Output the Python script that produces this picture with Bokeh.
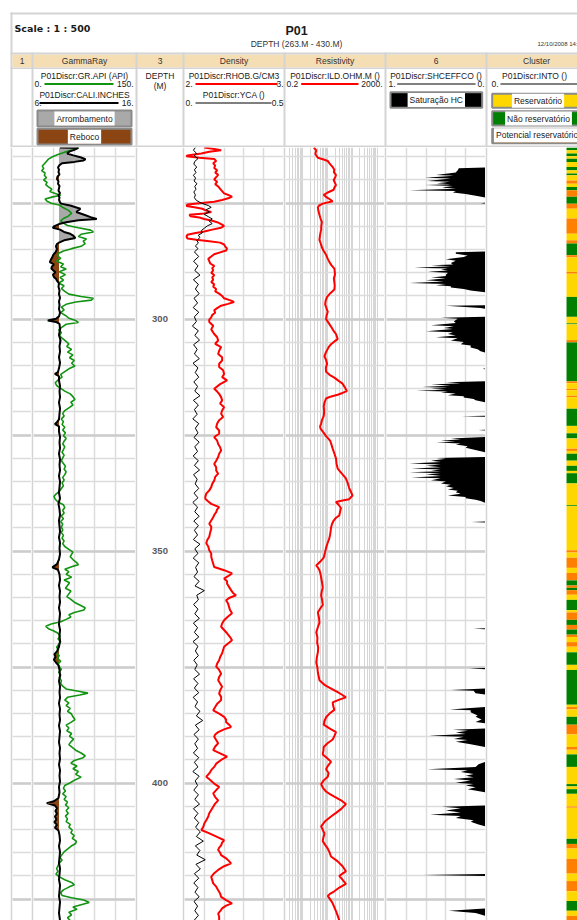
import numpy as np
from bokeh.plotting import figure
from bokeh.layouts import column, row
from bokeh.models import Range1d, Grid, SingleIntervalTicker, FixedTicker, Spacer
from bokeh.core.properties import value
from bokeh.embed import file_html
from bokeh.resources import INLINE

# ------------------------------------------------------------------ data
# GR (API) : (depth m, value)
gr_log = [
    (263.0, 66), (263.5, 58), (264.0, 46), (264.5, 36), (265.0, 28), (265.5, 22), (266.0, 19), (266.5, 16), (267.0, 13), (267.5, 15),
    (268.0, 12), (268.5, 17), (269.0, 16), (269.5, 19), (270.0, 15), (270.5, 20), (271.0, 18), (271.5, 22), (272.0, 27), (272.5, 24),
    (273.0, 34), (273.3, 40), (273.7, 27), (274.1, 17), (274.6, 20), (275.0, 26), (275.4, 38), (276.0, 44), (276.6, 52), (277.2, 56),
    (277.8, 51), (278.3, 44), (278.8, 40), (279.3, 44), (279.8, 50), (280.3, 66), (280.8, 84), (281.2, 88), (281.7, 70), (282.2, 66),
    (282.7, 78), (283.2, 73), (283.7, 76), (284.3, 70), (284.8, 56), (285.3, 44), (285.8, 37), (286.3, 35), (286.9, 40), (287.5, 34),
    (288.1, 44), (288.7, 40), (289.2, 48), (289.8, 38), (290.4, 47), (291.0, 39), (291.6, 44), (292.2, 37), (292.8, 45), (293.4, 41),
    (294.0, 46), (294.6, 52), (295.1, 70), (295.5, 88), (295.9, 85), (296.3, 62), (296.8, 48), (297.4, 41), (298.0, 45), (298.6, 40),
    (299.2, 47), (299.8, 52), (300.3, 62), (300.7, 66), (301.1, 48), (301.7, 42), (302.3, 37), (302.9, 41), (303.5, 38), (304.1, 42),
    (304.7, 47), (305.3, 52), (305.9, 49), (306.5, 56), (307.1, 50), (307.7, 58), (308.3, 53), (308.9, 60), (309.5, 56), (310.1, 61),
    (310.7, 52), (311.3, 46), (311.9, 40), (312.5, 42), (313.1, 36), (313.7, 32), (314.3, 34), (314.9, 40), (315.5, 46), (316.1, 54),
    (316.7, 58), (317.3, 61), (317.9, 55), (318.5, 58), (319.1, 52), (319.7, 46), (320.3, 43), (320.9, 45), (321.5, 41), (322.1, 44),
    (322.7, 42), (323.3, 46), (323.9, 43), (324.5, 47), (325.1, 44), (325.7, 48), (326.3, 45), (326.9, 43), (327.5, 46), (328.1, 44),
    (328.7, 42), (329.3, 45), (329.9, 43), (330.5, 41), (331.1, 44), (331.7, 47), (332.3, 45), (332.9, 48), (333.5, 46), (334.1, 43),
    (334.7, 45), (335.3, 42), (335.9, 44), (336.5, 41), (337.1, 38), (337.7, 33), (338.2, 30), (338.8, 32), (339.4, 36), (340.0, 44),
    (340.6, 46), (341.2, 43), (341.8, 45), (342.4, 41), (343.0, 44), (343.6, 40), (344.2, 43), (344.8, 41), (345.4, 43), (346.0, 41),
    (346.6, 44), (347.2, 42), (347.8, 45), (348.4, 43), (349.0, 46), (349.6, 52), (350.2, 58), (350.7, 56), (351.2, 54), (351.8, 58),
    (352.4, 63), (352.9, 66), (353.4, 55), (353.9, 46), (354.4, 52), (355.0, 48), (355.6, 56), (356.2, 45), (356.8, 53), (357.4, 50),
    (358.0, 47), (358.6, 55), (359.2, 52), (359.8, 49), (360.4, 55), (361.0, 60), (361.6, 68), (362.2, 76), (362.7, 74), (363.2, 60),
    (363.7, 52), (364.2, 55), (364.7, 48), (365.2, 40), (365.7, 26), (366.2, 18), (366.7, 22), (367.2, 30), (367.7, 36), (368.3, 39),
    (368.9, 36), (369.5, 40), (370.1, 37), (370.7, 34), (371.3, 37), (371.9, 33), (372.5, 38), (373.1, 35), (373.7, 40), (374.3, 36),
    (374.9, 38), (375.5, 41), (376.1, 37), (376.7, 40), (377.3, 38), (377.9, 41), (378.5, 40), (379.1, 43), (379.7, 48), (380.2, 66),
    (380.6, 80), (381.0, 68), (381.5, 50), (382.1, 46), (382.7, 52), (383.3, 48), (383.9, 54), (384.5, 50), (385.1, 56), (385.7, 58),
    (386.3, 61), (386.9, 55), (387.5, 48), (388.1, 52), (388.7, 49), (389.3, 56), (389.9, 53), (390.5, 59), (391.1, 55), (391.7, 52),
    (392.3, 57), (392.9, 62), (393.5, 70), (394.1, 76), (394.6, 72), (395.1, 60), (395.7, 55), (396.3, 64), (396.9, 58), (397.5, 66),
    (398.1, 62), (398.7, 70), (399.3, 61), (399.9, 54), (400.5, 46), (401.1, 44), (401.7, 47), (402.3, 43), (402.9, 48), (403.5, 45),
    (404.1, 50), (404.7, 47), (405.3, 52), (405.9, 48), (406.5, 51), (407.1, 47), (407.7, 50), (408.3, 48), (408.9, 54), (409.5, 52),
    (410.1, 57), (410.7, 55), (411.3, 60), (411.9, 57), (412.5, 63), (413.0, 62), (413.6, 55), (414.2, 50), (414.8, 45), (415.4, 42),
    (416.0, 39), (416.6, 42), (417.2, 38), (417.8, 36), (418.4, 34), (419.0, 36), (419.6, 33), (420.2, 38), (420.8, 46), (421.4, 56),
    (421.9, 60), (422.4, 52), (423.0, 44), (423.6, 40), (424.2, 42), (424.7, 56), (425.2, 74), (425.7, 82), (426.2, 70), (426.7, 58),
    (427.2, 64), (427.8, 52), (428.4, 56), (429.0, 50), (429.6, 54),
]

# CALI (inches)
cali_log = [
    (263.0, 8.6), (263.1, 10.4), (263.5, 10.0), (263.9, 9.5), (264.3, 9.3), (264.7, 9.9), (265.1, 10.6), (265.5, 11.1), (265.8, 10.9), (266.1, 10.0),
    (266.4, 8.8), (266.8, 8.55), (267.3, 8.4), (267.8, 8.5), (268.3, 8.45), (268.8, 8.55), (269.3, 8.35), (269.8, 8.3), (270.3, 8.45), (270.8, 8.4),
    (271.3, 8.55), (271.8, 8.5), (272.3, 8.45), (272.8, 8.6), (273.3, 8.45), (273.8, 8.55), (274.3, 8.5), (274.8, 8.6), (275.1, 8.7), (275.5, 9.6),
    (276.2, 10.6), (276.9, 10.2), (277.6, 11.1), (278.0, 11.6), (278.4, 12.2), (278.7, 10.4), (279.1, 9.2), (279.5, 8.5), (280.0, 8.0), (280.3, 7.9),
    (280.7, 8.6), (281.2, 9.0), (281.6, 9.6), (282.0, 9.9), (282.5, 10.1), (283.0, 9.0), (283.5, 8.5), (283.8, 8.3), (284.3, 8.2), (284.9, 8.3),
    (285.6, 8.15), (286.1, 7.95), (286.6, 7.85), (287.2, 7.7), (287.7, 7.6), (288.2, 8.0), (288.7, 7.8), (289.1, 7.75), (289.5, 7.95), (289.9, 8.15),
    (290.4, 7.9), (290.9, 8.0), (291.3, 8.2), (291.7, 8.3), (292.3, 8.5), (293.0, 8.45), (293.8, 8.55), (294.6, 8.5), (295.4, 8.6), (296.2, 8.5),
    (297.0, 8.55), (297.8, 8.5), (298.6, 8.6), (299.4, 8.5), (299.9, 8.2), (300.3, 7.4), (300.6, 8.2), (301.0, 8.55), (302.2, 8.6), (303.4, 8.5),
    (304.6, 8.65), (305.8, 8.55), (307.0, 8.6), (308.2, 8.5), (309.4, 8.6), (310.6, 8.5), (311.4, 8.4), (311.8, 8.1), (312.3, 8.5), (313.2, 8.5),
    (314.4, 8.6), (315.6, 8.55), (316.8, 8.6), (318.0, 8.5), (319.2, 8.6), (320.4, 8.55), (321.6, 8.5), (322.2, 8.3), (322.6, 8.1), (323.1, 8.5),
    (324.2, 8.5), (325.4, 8.6), (326.6, 8.55), (327.8, 8.6), (329.0, 8.5), (330.2, 8.6), (331.4, 8.55), (332.6, 8.6), (333.8, 8.5), (335.0, 8.6),
    (336.2, 8.55), (337.4, 8.5), (338.6, 8.6), (339.8, 8.45), (341.0, 8.55), (342.2, 8.6), (343.4, 8.5), (344.6, 8.55), (345.8, 8.6), (347.0, 8.5),
    (348.2, 8.6), (349.4, 8.55), (350.6, 8.6), (351.8, 8.5), (352.8, 8.3), (353.5, 7.85), (354.0, 8.4), (355.0, 8.55), (356.2, 8.6), (357.4, 8.5),
    (358.6, 8.6), (359.8, 8.55), (361.0, 8.6), (362.2, 8.5), (363.4, 8.6), (364.6, 8.55), (365.8, 8.5), (367.0, 8.6), (368.2, 8.55), (369.4, 8.6),
    (370.6, 8.5), (371.6, 8.3), (372.2, 8.05), (372.8, 8.15), (373.4, 8.0), (374.0, 8.2), (374.6, 8.45), (375.6, 8.55), (376.8, 8.6), (378.0, 8.5),
    (379.2, 8.6), (380.4, 8.55), (381.6, 8.6), (382.8, 8.5), (384.0, 8.6), (385.2, 8.55), (386.4, 8.6), (387.6, 8.5), (388.8, 8.6), (390.0, 8.55),
    (391.2, 8.5), (392.4, 8.6), (393.6, 8.55), (394.8, 8.6), (396.0, 8.5), (397.2, 8.6), (398.4, 8.55), (399.6, 8.6), (400.8, 8.5), (402.0, 8.55),
    (403.2, 8.45), (403.9, 8.0), (404.3, 7.3), (404.8, 8.1), (405.4, 8.3), (406.0, 8.15), (406.6, 8.3), (407.2, 8.1), (407.8, 8.25), (408.4, 8.05),
    (409.0, 8.3), (409.6, 8.1), (410.2, 8.45), (411.2, 8.55), (412.4, 8.6), (413.6, 8.5), (414.8, 8.6), (416.0, 8.55), (417.2, 8.5), (418.4, 8.6),
    (419.6, 8.55), (420.8, 8.5), (422.0, 8.6), (423.2, 8.55), (424.4, 8.5), (425.6, 8.6), (426.8, 8.55), (428.0, 8.5), (429.6, 8.6),
]
bit_size = 8.5

# RHOB (g/cm3)
rhob_log = [
    (263.0, 2.20), (263.3, 2.30), (263.6, 2.37), (263.9, 2.25), (264.3, 2.17), (264.7, 2.03), (264.9, 2.02), (265.2, 2.15), (265.5, 2.30), (265.9, 2.32),
    (266.4, 2.29), (266.9, 2.31), (267.4, 2.30), (267.9, 2.33), (268.4, 2.31), (268.9, 2.34), (269.4, 2.32), (269.9, 2.30), (270.4, 2.33), (270.9, 2.31),
    (271.4, 2.34), (271.9, 2.36), (272.4, 2.38), (272.9, 2.40), (273.3, 2.45), (273.6, 2.48), (273.9, 2.45), (274.3, 2.38), (274.7, 2.30), (275.0, 2.15),
    (275.3, 2.03), (275.6, 2.02), (275.9, 2.10), (276.2, 2.18), (276.6, 2.22), (276.9, 2.27), (277.2, 2.20), (277.5, 2.05), (277.8, 2.06), (278.1, 2.15),
    (278.4, 2.20), (278.8, 2.28), (279.1, 2.33), (279.5, 2.37), (279.9, 2.40), (280.3, 2.37), (280.7, 2.28), (281.1, 2.20), (281.5, 2.10), (281.8, 2.03),
    (282.2, 2.02), (282.6, 2.03), (282.9, 2.12), (283.2, 2.25), (283.5, 2.36), (283.9, 2.40), (284.3, 2.41), (284.8, 2.43), (285.2, 2.42), (285.6, 2.36),
    (286.0, 2.30), (286.5, 2.27), (287.0, 2.24), (287.5, 2.25), (288.0, 2.26), (288.5, 2.30), (289.0, 2.28), (289.5, 2.29), (290.0, 2.27), (290.5, 2.30),
    (291.0, 2.28), (291.5, 2.29), (292.0, 2.27), (292.5, 2.30), (293.0, 2.29), (293.5, 2.32), (294.0, 2.31), (294.5, 2.35), (295.0, 2.38), (295.5, 2.40),
    (296.0, 2.47), (296.3, 2.50), (296.7, 2.44), (297.1, 2.37), (297.6, 2.33), (298.1, 2.30), (298.6, 2.31), (299.1, 2.28), (299.6, 2.27), (300.1, 2.25),
    (300.6, 2.25), (301.4, 2.29), (302.2, 2.27), (303.2, 2.30), (303.9, 2.33), (304.6, 2.34), (305.3, 2.31), (306.0, 2.37), (306.8, 2.35), (307.5, 2.34),
    (308.2, 2.38), (308.9, 2.38), (309.6, 2.35), (310.3, 2.35), (311.0, 2.39), (311.8, 2.40), (312.5, 2.38), (313.2, 2.43), (314.0, 2.36), (315.0, 2.30),
    (315.6, 2.33), (316.1, 2.35), (316.8, 2.37), (317.5, 2.38), (318.2, 2.36), (319.0, 2.40), (319.7, 2.38), (320.4, 2.37), (321.1, 2.39), (321.8, 2.35),
    (322.5, 2.33), (323.3, 2.32), (324.0, 2.35), (324.7, 2.35), (325.4, 2.30), (326.2, 2.33), (326.9, 2.34), (327.6, 2.36), (328.3, 2.37), (329.0, 2.35),
    (329.7, 2.34), (330.5, 2.32), (331.2, 2.30), (331.9, 2.32), (332.6, 2.32), (333.3, 2.34), (334.0, 2.31), (334.8, 2.30), (335.5, 2.28), (336.2, 2.27),
    (336.9, 2.25), (337.6, 2.22), (338.3, 2.21), (338.7, 2.21), (339.3, 2.24), (339.8, 2.27), (340.5, 2.35), (341.0, 2.33), (341.6, 2.32), (342.2, 2.30),
    (342.7, 2.29), (343.4, 2.27), (344.1, 2.25), (344.7, 2.27), (345.2, 2.27), (345.9, 2.26), (346.9, 2.25), (347.6, 2.23), (348.3, 2.22), (349.0, 2.24),
    (349.8, 2.25), (350.5, 2.27), (351.2, 2.27), (352.0, 2.28), (352.7, 2.29), (353.4, 2.30), (354.1, 2.40), (354.8, 2.48), (355.4, 2.44), (355.9, 2.40),
    (356.5, 2.43), (357.0, 2.43), (357.7, 2.45), (358.4, 2.47), (359.0, 2.49), (359.5, 2.52), (360.1, 2.45), (360.6, 2.42), (361.3, 2.44), (362.0, 2.45),
    (362.7, 2.46), (363.4, 2.48), (364.1, 2.44), (364.9, 2.40), (365.6, 2.38), (366.3, 2.37), (367.0, 2.40), (367.7, 2.43), (368.5, 2.46), (369.2, 2.48),
    (369.9, 2.44), (370.6, 2.40), (371.3, 2.39), (372.0, 2.38), (372.8, 2.36), (373.5, 2.35), (374.2, 2.33), (374.9, 2.32), (375.6, 2.35), (376.4, 2.37),
    (377.1, 2.35), (377.8, 2.34), (378.5, 2.36), (379.2, 2.38), (380.0, 2.36), (380.7, 2.35), (381.4, 2.37), (382.1, 2.37), (382.9, 2.33), (383.6, 2.31),
    (384.3, 2.29), (385.0, 2.35), (385.7, 2.40), (386.3, 2.42), (386.8, 2.42), (387.4, 2.45), (387.9, 2.47), (388.4, 2.40), (389.0, 2.34), (389.5, 2.31),
    (390.0, 2.30), (390.7, 2.32), (391.4, 2.34), (392.1, 2.31), (392.9, 2.29), (393.6, 2.36), (394.3, 2.43), (395.0, 2.37), (395.8, 2.32), (396.5, 2.30),
    (397.2, 2.27), (397.9, 2.25), (398.6, 2.22), (399.3, 2.26), (400.1, 2.30), (400.8, 2.35), (401.5, 2.32), (402.2, 2.29), (403.0, 2.31), (403.7, 2.34),
    (404.4, 2.31), (405.1, 2.29), (405.8, 2.27), (406.5, 2.25), (407.2, 2.24), (408.0, 2.22), (408.7, 2.20), (409.4, 2.19), (410.1, 2.17), (410.7, 2.24),
    (411.2, 2.29), (411.8, 2.35), (412.3, 2.40), (412.8, 2.38), (413.4, 2.37), (413.9, 2.35), (414.4, 2.34), (415.0, 2.36), (415.5, 2.37), (416.2, 2.42),
    (416.8, 2.45), (417.3, 2.47), (417.9, 2.40), (418.7, 2.34), (419.4, 2.30), (420.2, 2.27), (420.9, 2.28), (421.6, 2.29), (422.3, 2.32), (423.1, 2.34),
    (423.8, 2.36), (424.5, 2.37), (425.2, 2.42), (425.9, 2.48), (426.4, 2.42), (427.0, 2.38), (427.6, 2.36), (428.1, 2.34), (428.8, 2.35), (429.6, 2.35),
]

# YCA (fraction): upper section, then 1 m samples from 285.5 m
yca_upper = [
    (263.0, 0.055), (263.6, 0.045), (264.2, 0.060), (264.8, 0.050), (265.4, 0.068), (266.0, 0.052), (266.6, 0.047), (267.2, 0.062), (267.8, 0.050), (268.4, 0.058),
    (269.0, 0.045), (269.6, 0.056), (270.2, 0.048), (270.8, 0.063), (271.4, 0.052), (272.0, 0.058), (272.6, 0.047), (273.2, 0.055), (273.8, 0.050), (274.4, 0.060),
    (275.0, 0.085), (275.5, 0.120), (275.9, 0.135), (276.4, 0.110), (276.9, 0.125), (277.4, 0.100), (277.9, 0.120), (278.4, 0.140), (278.9, 0.125), (279.4, 0.140),
    (279.9, 0.115), (280.4, 0.100), (280.9, 0.085), (281.4, 0.090), (281.9, 0.070), (282.4, 0.078), (283.0, 0.062), (283.6, 0.070), (284.2, 0.055), (284.8, 0.068),
]
yca_lower_start = 285.5
yca_lower = [
    0.050, 0.072, 0.046, 0.068, 0.052, 0.078, 0.045, 0.070, 0.055, 0.074,
    0.048, 0.066, 0.044, 0.072, 0.050, 0.060, 0.040, 0.070, 0.052, 0.076,
    0.046, 0.064, 0.050, 0.075, 0.043, 0.068, 0.054, 0.072, 0.047, 0.066,
    0.052, 0.078, 0.045, 0.070, 0.050, 0.064, 0.042, 0.072, 0.055, 0.068,
    0.048, 0.074, 0.052, 0.066, 0.044, 0.070, 0.050, 0.076, 0.046, 0.064,
    0.054, 0.072, 0.048, 0.068, 0.042, 0.066, 0.052, 0.074, 0.047, 0.070,
    0.050, 0.066, 0.045, 0.078, 0.052, 0.068, 0.044, 0.072, 0.056, 0.066,
    0.048, 0.074, 0.053, 0.100, 0.062, 0.070, 0.046, 0.068, 0.052, 0.075,
    0.045, 0.066, 0.050, 0.072, 0.043, 0.068, 0.055, 0.070, 0.047, 0.064,
    0.052, 0.076, 0.046, 0.068, 0.050, 0.072, 0.044, 0.066, 0.053, 0.078,
    0.060, 0.092, 0.055, 0.074, 0.048, 0.070, 0.052, 0.066, 0.045, 0.072,
    0.050, 0.068, 0.042, 0.074, 0.054, 0.066, 0.047, 0.070, 0.052, 0.076,
    0.045, 0.068, 0.050, 0.072, 0.056, 0.080, 0.060, 0.095, 0.055, 0.078,
    0.062, 0.105, 0.058, 0.080, 0.050, 0.072, 0.047, 0.068, 0.053, 0.074,
    0.048, 0.066, 0.052, 0.070, 0.050,
]

# ILD (ohm.m)
ild_log = [
    (263.0, 2.8), (263.6, 3.5), (264.4, 3.2), (265.2, 4.05), (265.6, 7.0), (265.9, 10.2), (266.4, 12.0), (266.8, 13.8), (267.3, 16.5), (267.8, 18.8),
    (268.3, 18.0), (268.9, 21.9), (269.4, 20.5), (270.0, 17.7), (270.5, 19.5), (271.1, 21.9), (271.6, 19.0), (272.1, 17.7), (272.7, 10.2), (273.2, 7.0),
    (273.7, 9.0), (274.1, 11.9), (274.6, 16.1), (275.1, 6.4), (275.5, 4.6), (275.9, 4.05), (276.7, 4.3), (277.5, 4.7), (278.3, 5.2), (279.1, 5.9),
    (279.9, 5.6), (280.7, 5.5), (281.8, 5.0), (282.9, 4.7), (283.7, 5.3), (284.5, 5.9), (285.3, 7.0), (286.1, 8.7), (286.9, 10.0), (287.7, 11.9),
    (288.4, 14.5), (289.1, 18.8), (289.7, 19.5), (290.4, 20.0), (291.2, 18.0), (292.0, 18.8), (292.8, 19.5), (293.6, 18.8), (294.4, 13.0), (295.2, 9.6),
    (296.0, 8.4), (296.8, 8.0), (297.6, 9.0), (298.4, 10.2), (299.2, 9.2), (300.0, 8.7), (300.8, 11.0), (301.6, 13.8), (302.4, 17.0), (303.2, 21.9),
    (303.8, 24.0), (304.3, 25.6), (304.9, 18.0), (305.4, 13.8), (305.9, 11.5), (306.4, 10.2), (307.2, 8.5), (308.0, 7.5), (308.8, 8.7), (309.6, 9.6),
    (310.5, 8.5), (311.3, 8.7), (312.0, 12.0), (312.6, 18.8), (313.3, 28.0), (313.9, 40.5), (314.7, 50.0), (315.5, 60.4), (315.9, 40.0), (316.3, 25.6),
    (316.7, 13.0), (317.1, 8.7), (318.0, 7.5), (318.8, 7.0), (319.8, 7.3), (320.9, 7.0), (321.7, 6.0), (322.5, 5.5), (323.1, 5.0), (323.6, 5.2),
    (324.4, 6.8), (325.2, 8.7), (325.8, 11.0), (326.3, 13.0), (327.1, 14.5), (327.9, 16.1), (329.0, 19.0), (330.0, 21.9), (331.1, 23.0), (332.2, 25.6),
    (333.3, 38.0), (334.3, 55.0), (335.4, 66.0), (336.4, 74.9), (337.2, 88.0), (338.0, 101.8), (338.8, 74.9), (339.1, 40.0), (339.4, 21.9), (340.0, 28.0),
    (340.7, 34.8), (341.5, 32.0), (342.3, 29.8), (342.8, 22.0), (343.4, 17.7), (344.2, 15.0), (345.0, 13.8), (346.1, 13.0), (347.2, 11.9), (348.3, 10.0),
    (349.3, 8.7), (350.4, 7.8), (351.4, 7.0), (352.3, 5.0), (353.1, 3.5), (353.6, 4.2), (354.1, 4.7), (354.9, 5.2), (355.7, 5.5), (356.8, 6.0),
    (357.9, 6.4), (358.7, 5.8), (359.5, 5.5), (360.5, 6.0), (361.6, 6.4), (362.4, 5.0), (363.2, 4.05), (364.3, 4.5), (365.4, 4.7), (366.5, 4.0),
    (367.5, 3.5), (368.6, 3.9), (369.7, 3.8), (370.8, 4.2), (371.8, 4.05), (372.9, 3.7), (374.0, 3.5), (375.1, 3.9), (376.1, 4.05), (377.0, 4.4),
    (377.8, 4.7), (378.8, 7.5), (379.6, 14.0), (380.4, 25.6), (381.0, 40.0), (381.5, 55.0), (382.0, 30.0), (382.6, 16.1), (383.4, 17.0), (384.2, 18.8),
    (385.0, 12.0), (385.8, 8.7), (386.6, 7.5), (387.4, 7.0), (388.2, 12.0), (389.0, 21.9), (389.8, 19.0), (390.6, 16.1), (391.4, 10.0), (392.2, 7.0),
    (393.0, 6.8), (393.8, 6.4), (394.6, 9.5), (395.4, 13.8), (396.2, 10.5), (397.0, 8.7), (397.8, 11.0), (398.6, 10.2), (399.4, 7.0), (400.2, 5.5),
    (401.0, 6.5), (401.8, 8.7), (402.4, 13.0), (402.9, 18.8), (403.7, 35.0), (404.5, 55.0), (405.0, 45.0), (405.6, 34.8), (406.4, 22.0), (407.2, 13.8),
    (408.2, 8.0), (409.3, 5.5), (410.1, 6.5), (410.9, 7.5), (411.7, 6.8), (412.5, 6.4), (413.3, 8.0), (414.1, 10.2), (414.9, 12.0), (415.8, 13.8),
    (416.8, 25.0), (417.9, 40.5), (418.5, 48.0), (419.0, 55.0), (419.5, 40.0), (420.0, 29.8), (420.8, 40.0), (421.7, 55.0), (422.5, 30.0), (423.3, 18.8),
    (423.8, 13.0), (424.3, 10.2), (425.1, 13.0), (425.9, 16.1), (426.8, 19.0), (427.6, 21.9), (428.4, 25.0), (429.6, 30.0),
]

# SHCEFFCO (fraction, 1 at left -> 0 at right)
sh_log = [
    (263.0, 0), (267.3, 0), (267.45, 0.27), (267.9, 0.28), (268.1, 0.29), (268.4, 0.30), (268.9, 0.50), (269.1, 0.32), (269.5, 0.61), (269.7, 0.35),
    (270.2, 0.59), (270.4, 0.36), (270.7, 0.49), (270.9, 0.35), (271.1, 0.61), (271.3, 0.33), (271.6, 0.44), (271.9, 0.30), (272.2, 0.77), (272.4, 0.30),
    (272.7, 0.33), (273.0, 0.20), (273.5, 0.07), (273.8, 0),
    (274.9, 0), (275.0, 0.05), (275.1, 0),
    (285.4, 0), (285.6, 0.30), (285.9, 0.30), (286.3, 0.18), (286.6, 0.22), (287.1, 0.40), (287.4, 0.30), (287.9, 0.35), (288.2, 0.33), (288.4, 0.55),
    (288.6, 0.35), (288.9, 0.72), (289.1, 0.38), (289.3, 0.45), (289.5, 0.38), (289.8, 0.58), (290.0, 0.38), (290.4, 0.40), (290.7, 0.40), (291.0, 0.55),
    (291.2, 0.40), (291.6, 0.60), (291.9, 0.42), (292.2, 0.77), (292.4, 0.40), (292.7, 0.50), (292.9, 0.35), (293.2, 0.35), (293.5, 0.22), (293.8, 0.15),
    (294.2, 0),
    (297.0, 0), (297.1, 0.40), (297.6, 0.05), (297.8, 0),
    (299.5, 0), (299.7, 0.45), (299.9, 0.28), (300.2, 0.30), (300.5, 0.32), (300.8, 0.30), (301.3, 0.55), (301.5, 0.32), (301.9, 0.42), (302.1, 0.33),
    (302.6, 0.60), (302.8, 0.33), (303.2, 0.38), (303.5, 0.30), (303.9, 0.50), (304.1, 0.28), (304.6, 0.35), (304.9, 0.22), (305.4, 0.25), (305.7, 0.15),
    (306.1, 0.15), (306.5, 0.08), (306.9, 0.05), (307.2, 0),
    (310.6, 0), (310.7, 0.03), (310.8, 0),
    (313.4, 0), (313.6, 0.40), (313.8, 0.25), (314.1, 0.55), (314.3, 0.35), (314.6, 0.64), (314.8, 0.38), (315.0, 0.55), (315.2, 0.40), (315.4, 0.70),
    (315.6, 0.38), (315.8, 0.45), (316.0, 0.30), (316.4, 0.38), (316.6, 0.22), (316.9, 0.22), (317.2, 0.12), (317.5, 0.10), (317.9, 0),
    (320.8, 0), (320.9, 0.24), (321.05, 0),
    (323.8, 0), (323.9, 0.07), (324.0, 0),
    (325.4, 0), (325.7, 0.35), (325.9, 0.25), (326.2, 0.45), (326.4, 0.30), (326.6, 0.50), (326.8, 0.25), (327.0, 0.30), (327.4, 0.18), (327.7, 0.20),
    (328.3, 0.08), (328.7, 0),
    (329.7, 0), (329.9, 0.50), (330.1, 0.40), (330.5, 0.55), (330.8, 0.45), (331.1, 0.77), (331.3, 0.45), (331.6, 0.60), (331.9, 0.45), (332.2, 0.75),
    (332.4, 0.45), (332.6, 0.55), (332.8, 0.45), (333.0, 0.77), (333.2, 0.45), (333.4, 0.60), (333.8, 0.45), (334.1, 0.75), (334.3, 0.45), (334.7, 0.55),
    (335.0, 0.40), (335.4, 0.45), (335.7, 0.35), (336.0, 0.40), (336.4, 0.32), (336.7, 0.38), (337.0, 0.28), (337.3, 0.30), (337.6, 0.25), (338.0, 0.38),
    (338.3, 0.20), (338.6, 0.20), (338.9, 0.10), (339.2, 0.05), (339.6, 0),
    (343.6, 0), (343.7, 0.14), (343.85, 0),
    (366.6, 0), (366.7, 0.12), (366.85, 0),
    (375.2, 0), (375.3, 0.16), (375.45, 0),
    (379.6, 0), (379.9, 0.35), (380.1, 0.12), (380.6, 0.10), (380.9, 0),
    (383.6, 0), (384.1, 0.36), (384.3, 0.15), (384.7, 0.15), (385.4, 0.08), (385.7, 0.10), (386.3, 0.04), (386.8, 0.10), (387.1, 0),
    (388.2, 0), (388.5, 0.33), (388.7, 0.18), (389.1, 0.30), (389.4, 0.20), (389.8, 0.57), (390.0, 0.22), (390.5, 0.32), (390.7, 0.18), (391.1, 0.30),
    (391.6, 0.15), (392.2, 0),
    (395.4, 0), (395.9, 0.07), (396.5, 0.10), (397.0, 0.59), (397.2, 0.18), (397.6, 0.25), (398.0, 0.12), (398.4, 0.20), (398.7, 0.12), (399.1, 0.32),
    (399.4, 0.15), (399.9, 0.30), (400.2, 0.12), (400.5, 0.20), (400.9, 0.10), (401.3, 0.18), (402.0, 0),
    (404.8, 0), (405.1, 0.44), (405.4, 0.25), (405.9, 0.40), (406.3, 0.25), (406.8, 0.56), (407.1, 0.25), (407.5, 0.30), (408.0, 0.12), (408.3, 0.15),
    (408.9, 0.07), (409.3, 0),
    (419.6, 0), (419.8, 0.64), (420.0, 0),
    (427.0, 0), (427.5, 0.37), (428.0, 0.10), (428.6, 0), (429.6, 0),
]

# Cluster intervals: (top, base, class)  R=Reservatorio, N=Nao reservatorio, P=Potencial
cluster_log = [
    (263.0, 263.6, "N"), (263.6, 264.3, "R"), (264.3, 264.9, "N"), (264.9, 265.4, "R"), (265.4, 266.1, "N"), (266.1, 267.2, "R"), (267.2, 267.9, "N"),
    (267.9, 268.6, "R"), (268.6, 269.0, "N"), (269.0, 270.1, "R"), (270.1, 270.8, "P"), (270.8, 271.5, "R"), (271.5, 272.2, "N"), (272.2, 273.6, "P"),
    (273.6, 275.1, "N"), (275.1, 276.2, "P"), (276.2, 278.3, "R"), (278.3, 281.6, "P"), (281.6, 283.0, "R"), (283.0, 283.7, "P"), (283.7, 286.2, "N"),
    (286.2, 286.7, "P"), (286.7, 289.8, "R"), (289.8, 290.2, "P"), (290.2, 295.2, "R"), (295.2, 299.5, "N"), (299.5, 300.9, "R"), (300.9, 301.1, "N"),
    (301.1, 304.5, "R"), (304.5, 305.0, "P"), (305.0, 313.4, "N"), (313.4, 313.8, "P"), (313.8, 315.0, "R"), (315.0, 315.3, "P"), (315.3, 316.5, "R"),
    (316.5, 316.8, "P"), (316.8, 319.3, "R"), (319.3, 323.0, "N"), (323.0, 324.6, "R"), (324.6, 325.7, "N"), (325.7, 327.9, "R"), (327.9, 328.4, "P"),
    (328.4, 329.0, "R"), (329.0, 330.5, "N"), (330.5, 331.6, "R"), (331.6, 332.7, "N"), (332.7, 333.2, "R"), (333.2, 335.4, "N"), (335.4, 340.1, "R"),
    (340.1, 340.3, "N"), (340.3, 349.8, "R"), (349.8, 350.3, "P"), (350.3, 351.4, "R"), (351.4, 353.6, "P"), (353.6, 354.7, "R"), (354.7, 356.3, "P"),
    (356.3, 357.4, "N"), (357.4, 357.9, "P"), (357.9, 358.4, "N"), (358.4, 359.4, "P"), (359.4, 360.5, "R"), (360.5, 362.7, "N"), (362.7, 363.2, "R"),
    (363.2, 364.8, "P"), (364.8, 365.9, "N"), (365.9, 366.9, "P"), (366.9, 368.0, "N"), (368.0, 368.5, "P"), (368.5, 369.6, "R"), (369.6, 370.6, "P"),
    (370.6, 371.8, "R"), (371.8, 374.5, "N"), (374.5, 375.6, "R"), (375.6, 383.1, "N"), (383.1, 383.6, "R"), (383.6, 384.1, "P"), (384.1, 385.7, "R"),
    (385.7, 387.4, "N"), (387.4, 389.5, "P"), (389.5, 392.2, "R"), (392.2, 392.8, "P"), (392.8, 393.8, "R"), (393.8, 396.5, "N"), (396.5, 400.2, "R"),
    (400.2, 400.7, "N"), (400.7, 401.3, "R"), (401.3, 402.3, "N"), (402.3, 405.0, "R"), (405.0, 405.3, "P"), (405.3, 412.0, "R"), (412.0, 413.1, "N"),
    (413.1, 414.1, "P"), (414.1, 416.3, "R"), (416.3, 419.5, "P"), (419.5, 421.1, "R"), (421.1, 423.3, "P"), (423.3, 425.4, "R"), (425.4, 427.5, "N"),
    (427.5, 428.6, "R"), (428.6, 429.6, "P"),
]

depth_labels = [300, 350, 400]
track_names = ["1", "GammaRay", "3", "Density", "Resistivity", "6", "Cluster"]

# ------------------------------------------------------------------ style / layout
TOP_D, BASE_D = 263.0, 429.6
TRACK_H = 773
HDR_H = 147
TOTAL_W = 577
SEP = "#d4d4d4"
GRID_MINOR = "#dcdcdc"
GRID_MAJOR = "#cccccc"
FONT = value("Liberation Sans")
GR_GREEN = "#129412"
CLASS_COLORS = {"R": "#ffd700", "N": "#008000", "P": "#ff8000"}
BAND_LEFT = 0.878


def make_track(width, x_range, log=False):
    p = figure(width=width, height=TRACK_H, x_range=x_range, y_range=Range1d(BASE_D, TOP_D),
               x_axis_type="log" if log else "linear",
               x_axis_location=None, y_axis_location=None,
               output_backend="svg", toolbar_location=None,
               min_border_left=2, min_border_right=0, min_border_top=0, min_border_bottom=0,
               border_fill_color=SEP, background_fill_color="white", outline_line_color=None)
    p.grid.visible = False
    return p


def depth_grid(p):
    p.add_layout(Grid(dimension=1, ticker=SingleIntervalTicker(interval=5),
                      grid_line_color=GRID_MINOR, grid_line_width=1.5))
    p.add_layout(Grid(dimension=1, ticker=SingleIntervalTicker(interval=25),
                      grid_line_color=GRID_MAJOR, grid_line_width=2.5))


def value_grid(p, ticker, width=1.5, color=GRID_MINOR):
    p.add_layout(Grid(dimension=0, ticker=ticker, grid_line_color=color, grid_line_width=width))


# ---- track 1 (empty)
p1 = make_track(21, Range1d(0, 1))
depth_grid(p1)

# ---- GammaRay track
gr_d, gr_v = map(np.array, zip(*gr_log))
ca_d, ca_v = map(np.array, zip(*cali_log))
pgr = make_track(104, Range1d(0, 150))
pgr.extra_x_ranges = {"cali": Range1d(6, 16)}
value_grid(pgr, SingleIntervalTicker(interval=30))
depth_grid(pgr)
pgr.harea(y=ca_d, x1=np.maximum(ca_v, bit_size), x2=bit_size, x_range_name="cali", fill_color="#a9a9a9")
pgr.harea(y=ca_d, x1=np.minimum(ca_v, bit_size), x2=bit_size, x_range_name="cali", fill_color="#8b4513")
pgr.line(gr_v, gr_d, line_color=GR_GREEN, line_width=1.6)
pgr.line(ca_v, ca_d, x_range_name="cali", line_color="black", line_width=2)

# ---- depth track
pdep = make_track(47, Range1d(0, 1))
pdep.text(x=[0.5] * len(depth_labels), y=depth_labels, text=[str(v) for v in depth_labels],
          text_font=FONT, text_font_size=value("9.5px"), text_font_style="bold",
          text_color="#5a5a5a", text_align="center", text_baseline="middle")

# ---- Density track
rh_d, rh_v = map(np.array, zip(*rhob_log))
yu_d, yu_v = zip(*yca_upper)
yca_d = np.concatenate([yu_d, yca_lower_start + np.arange(len(yca_lower))])
yca_v = np.concatenate([yu_v, yca_lower])
pden = make_track(101, Range1d(2, 3))
pden.extra_x_ranges = {"yca": Range1d(0, 0.5)}
value_grid(pden, SingleIntervalTicker(interval=0.2))
depth_grid(pden)
pden.line(rh_v, rh_d, line_color="red", line_width=2)
pden.line(yca_v, yca_d, x_range_name="yca", line_color="black", line_width=1)

# ---- Resistivity track
il_d, il_v = map(np.array, zip(*ild_log))
pres = make_track(101, Range1d(0.2, 2000), log=True)
log_lines = [m * 10.0 ** e for e in range(-1, 4) for m in range(1, 10) if 0.2 <= m * 10.0 ** e <= 2000]
value_grid(pres, FixedTicker(ticks=log_lines), width=1, color="#d6d6d6")
depth_grid(pres)
pres.line(il_v, il_d, line_color="red", line_width=2)

# ---- SHCEFFCO track
sh_d, sh_v = map(np.array, zip(*sh_log))
p6 = make_track(101, Range1d(1, 0))
value_grid(p6, SingleIntervalTicker(interval=0.2))
depth_grid(p6)
p6.harea(y=sh_d, x1=sh_v, x2=0, fill_color="black")

# ---- Cluster track
cl_top, cl_base, cl_cls = zip(*cluster_log)
pclu = make_track(92, Range1d(0, 1))
pclu.quad(left=BAND_LEFT, right=1.0, top=list(cl_top), bottom=list(cl_base),
          fill_color=[CLASS_COLORS[c] for c in cl_cls], line_color=None)

# ------------------------------------------------------------------ header (pixel layout)
hdr = figure(width=TOTAL_W, height=HDR_H, x_range=Range1d(0, TOTAL_W), y_range=Range1d(HDR_H, 0),
             x_axis_location=None, y_axis_location=None, output_backend="svg", toolbar_location=None,
             min_border=0, outline_line_color=None, background_fill_color="white", border_fill_color="white")
hdr.grid.visible = False

col_seps = [31, 135, 182, 283, 384, 485]
col_centers = [21.5, 84, 159.5, 233.5, 334.5, 435.5, 536]

hdr.quad(left=[10, 10], right=[TOTAL_W, 12], top=[12, 12], bottom=[14, HDR_H], fill_color=SEP, line_color=None)
hdr.quad(left=12, right=TOTAL_W, top=54, bottom=67, fill_color="#f5deb3", line_color=None)
hdr.quad(left=[10, 10, 10], right=[TOTAL_W] * 3, top=[52, 67, 145], bottom=[54, 68.5, HDR_H],
         fill_color=SEP, line_color=None)
hdr.quad(left=col_seps, right=[c + 2 for c in col_seps], top=52, bottom=HDR_H, fill_color=SEP, line_color=None)


def htext(x, y, s, size="8.5px", align="center", bold=False, color="#1a1a1a", bg=False, font=FONT):
    kw = dict(background_fill_color="white", padding=2) if bg else {}
    hdr.text(x=[x], y=[y], text=[s], text_font=font, text_font_size=value(size),
             text_align=align, text_baseline="middle", text_color=color,
             text_font_style="bold" if bold else "normal", **kw)


htext(14, 28, "Scale : 1 : 500", size="9.5px", align="left", bold=True, font=value("DejaVu Sans"))
htext(296, 30, "P01", size="12.5px", bold=True)
htext(296, 43.5, "DEPTH (263.M - 430.M)", size="8.5px", color="#333333")
htext(537, 43.5, "12/10/2008 14:", size="6px", align="left", color="#333333")

for cx, name in zip(col_centers, track_names):
    htext(cx, 60.5, name, size="8.5px", color="#333333")

# scale lines in the legend area
hdr.segment(x0=[44, 39, 195, 195, 300.7, 396.7, 500], x1=[113, 118, 277, 271, 358, 475, TOTAL_W],
            y0=[83.5, 102.5, 83.5, 102.5, 83.5, 83.5, 83.5], y1=[83.5, 102.5, 83.5, 102.5, 83.5, 83.5, 83.5],
            line_color=[GR_GREEN, "black", "red", "black", "red", "black", "black"],
            line_width=[2, 2, 2, 1, 2, 1, 1])

# GammaRay legend
htext(84, 75, "P01Discr:GR.API (API)")
htext(34, 83.5, "0.", align="left")
htext(133, 83.5, "150.", align="right")
htext(84, 94, "P01Discr:CALI.INCHES")
htext(34, 102.5, "6.", align="left")
htext(133, 102.5, "16.", align="right")
hdr.quad(left=[37, 37], right=[131, 131], top=[110, 128.3], bottom=[126, 144],
         fill_color=["#a9a9a9", "#8b4513"], line_color="#8a8a8a", line_width=2)
htext(84, 118, "Arrombamento", bg=True)
htext(84, 136.2, "Reboco", bg=True)

# Depth legend
htext(159.5, 75, "DEPTH")
htext(159.5, 85, "(M)")

# Density legend
htext(233.5, 75, "P01Discr:RHOB.G/CM3")
htext(185, 83.5, "2.", align="left")
htext(283, 83.5, "3.", align="right")
htext(233.5, 94, "P01Discr:YCA ()")
htext(185, 102.5, "0.", align="left")
htext(283, 102.5, "0.5", align="right")

# Resistivity legend
htext(334.5, 75, "P01Discr:ILD.OHM.M ()")
htext(286, 83.5, "0.2", align="left")
htext(382, 83.5, "2000.", align="right")

# SHCEFFCO legend
htext(435.5, 75, "P01Discr:SHCEFFCO ()")
htext(388, 83.5, "1.", align="left")
htext(484, 83.5, "0.", align="right")
hdr.quad(left=390, right=481.7, top=91.7, bottom=107.3, fill_color="black", line_color="#8a8a8a", line_width=2)
htext(435.8, 99.5, "Saturação HC", bg=True)

# Cluster legend
htext(534, 75, "P01Discr:INTO ()")
htext(491, 83.5, "0.", align="left")
hdr.quad(left=[491.7] * 3, right=[590] * 3, top=[93.3, 110.7, 128.3], bottom=[107.3, 125, 142.7],
         fill_color=[CLASS_COLORS["R"], CLASS_COLORS["N"], CLASS_COLORS["P"]],
         line_color="#8a8a8a", line_width=2)
htext(537.5, 100.3, "Reservatório", bg=True)
htext(538, 118, "Não reservatório", bg=True)
htext(493.5, 134.8, "Potencial reservatório", align="left", bg=True)

layout = column(hdr, row(Spacer(width=10, height=TRACK_H), p1, pgr, pdep, pden, pres, p6, pclu))

open("out.html", "w").write(file_html(layout, INLINE))
